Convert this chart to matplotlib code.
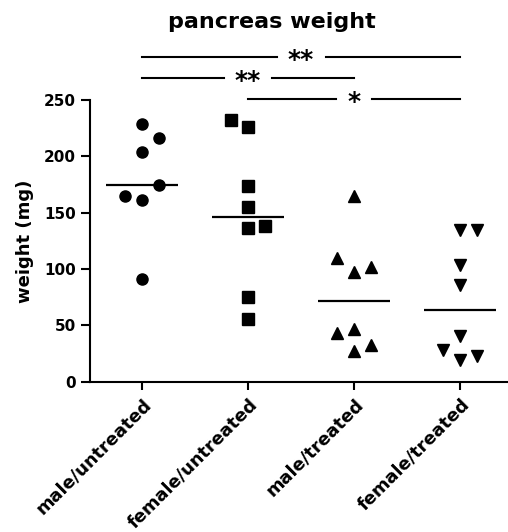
import numpy as np
import matplotlib
matplotlib.use("Agg")
import matplotlib.pyplot as plt
from matplotlib.transforms import ScaledTranslation

plt.rcParams["font.family"] = ["DejaVu Sans"]
plt.rcParams["font.weight"] = "bold"
plt.rcParams["axes.labelweight"] = "bold"

groups = ["male/untreated", "female/untreated", "male/treated", "female/treated"]
# pancreas weight (mg); order = order the swarm places the points
male_untreated = [229, 204, 216, 161, 165, 175, 91]
female_untreated = [226, 174, 155, 136, 138, 232, 75, 56]
male_treated = [165, 97, 102, 110, 47, 27, 33, 43]
female_treated = [135, 135, 104, 86, 41, 19, 28, 23]
markers = ["o", "s", "^", "v"]
# (group a, group b, stars), bottom bar first
comparisons = [(1, 3, "*"), (0, 2, "**"), (0, 3, "**")]


def swarm_offsets(values, min_gap=16, step=0.16):
    # column scatter: a point too close to one already in the centre goes to the side
    centre = []
    side = 1
    offsets = []
    for v in values:
        if all(abs(v - c) >= min_gap for c in centre):
            centre.append(v)
            offsets.append(0.0)
        else:
            offsets.append(side * step)
            side = -side
    return np.array(offsets)


fig = plt.figure(figsize=(5.08, 5.32), dpi=100)
ax = fig.add_axes([90 / 508, 150.3 / 532, 418 / 508, 281.7 / 532])

data = [male_untreated, female_untreated, male_treated, female_treated]
for i, (vals, mk) in enumerate(zip(data, markers)):
    vals = np.array(vals, dtype=float)
    xs = i + swarm_offsets(vals)
    ax.plot(xs, vals, linestyle="none", marker=mk, markersize=8,
            color="black", clip_on=False)
    ax.hlines(np.median(vals), i - 0.34, i + 0.34, color="black", lw=1.6)

ax.set_xlim(-0.49, 3.45)
ax.set_ylim(0, 250)
ax.set_yticks(np.arange(0, 251, 50))
ax.set_xticks(range(len(groups)))
ax.set_xticklabels(groups, rotation=45, ha="right", va="top",
                   rotation_mode="anchor", fontsize=12.8)
shift = ScaledTranslation(3 / 100, -4 / 100, fig.dpi_scale_trans)
for lab in ax.get_xticklabels():
    lab.set_transform(lab.get_transform() + shift)
ax.tick_params(axis="y", direction="out", length=6.5, width=1.5, pad=3.5,
               labelsize=11)
ax.tick_params(axis="x", direction="out", length=6, width=1.5, pad=4)
for s in ["top", "right"]:
    ax.spines[s].set_visible(False)
for s in ["left", "bottom"]:
    ax.spines[s].set_linewidth(1.5)
ax.set_ylabel("weight (mg)", fontsize=13, fontweight="bold", labelpad=7)

# significance bars above the plot
star_fs = 18
for level, (a, b, stars) in enumerate(comparisons):
    y = 251 + 18.7 * level
    mid = (a + b) / 2
    half_gap = (0.21 + 0.125 * len(stars)) / 2
    ax.plot([a, mid - half_gap], [y, y], color="black", lw=1.5, clip_on=False)
    ax.plot([mid + half_gap, b], [y, y], color="black", lw=1.5, clip_on=False)
    ax.annotate(stars, (mid, y), xytext=(0, -0.40 * star_fs),
                textcoords="offset points", ha="center", va="baseline",
                fontsize=star_fs, annotation_clip=False)

fig.text(271.5 / 508, (532 - 28.3) / 532, "pancreas weight", ha="center",
         va="baseline", fontsize=16)

fig.savefig("out.png", dpi=100)
